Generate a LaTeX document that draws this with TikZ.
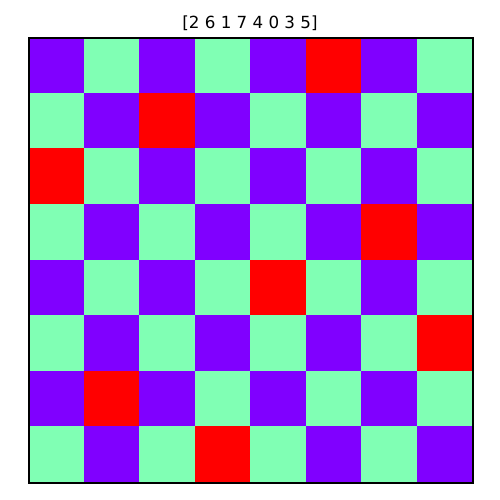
\documentclass[tikz,border=0pt]{standalone}
\usepackage{fontspec}
\setmainfont{DejaVu Sans}
\definecolor{qpurple}{HTML}{8000FF}
\definecolor{qgreen}{HTML}{80FFB4}
\definecolor{qred}{HTML}{FF0000}
\begin{document}
\begin{tikzpicture}[x=1pt,y=-1pt]
\useasboundingbox[fill=white] (0,0) rectangle (500,500);
\def\cw{55.5}\def\ch{55.625}
\foreach \r in {0,...,7}{
  \foreach \c in {0,...,7}{
    \pgfmathtruncatemacro{\myparity}{mod(\r+\c,2)}
    \ifnum\myparity=0 \def\col{qpurple}\else\def\col{qgreen}\fi
    \fill[\col] (28+\c*\cw,37+\r*\ch) rectangle (28+\c*\cw+\cw,37+\r*\ch+\ch);
  }
}
\foreach \c/\r in {0/2,1/6,2/1,3/7,4/4,5/0,6/3,7/5}{
  \fill[qred] (28+\c*\cw,37+\r*\ch) rectangle (28+\c*\cw+\cw,37+\r*\ch+\ch);
}
\node[draw=black,line width=2pt,minimum width=444pt,minimum height=445pt,inner sep=0pt,anchor=north west] (board) at (28,37) {};
\node[font=\fontsize{16.7}{20}\selectfont,anchor=base,inner sep=0pt] (title) at (250,29) {[2 6 1 7 4 0 3 5]};
\end{tikzpicture}
\end{document}
